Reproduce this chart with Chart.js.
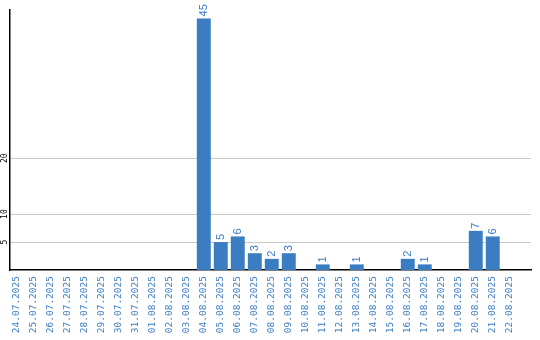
<!DOCTYPE html>
<html>
<head>
<meta charset="utf-8">
<script src="https://cdn.jsdelivr.net/npm/chart.js@4/dist/chart.umd.min.js"></script>
<style>
  html, body { margin: 0; padding: 0; background: #fff; }
  #wrap { width: 540px; height: 340px; }
</style>
</head>
<body>
<div id="wrap"><canvas id="chart" width="540" height="340"></canvas></div>
<script>
const dates = [
  '24.07.2025', '25.07.2025', '26.07.2025', '27.07.2025', '28.07.2025', '29.07.2025',
  '30.07.2025', '31.07.2025', '01.08.2025', '02.08.2025', '03.08.2025', '04.08.2025',
  '05.08.2025', '06.08.2025', '07.08.2025', '08.08.2025', '09.08.2025', '10.08.2025',
  '11.08.2025', '12.08.2025', '13.08.2025', '14.08.2025', '15.08.2025', '16.08.2025',
  '17.08.2025', '18.08.2025', '19.08.2025', '20.08.2025', '21.08.2025', '22.08.2025'
];
const counts = [
  0, 0, 0, 0, 0, 0,
  0, 0, 0, 0, 0, 45,
  5, 6, 3, 2, 3, 0,
  1, 0, 1, 0, 0, 2,
  1, 0, 0, 7, 6, 0
];
const yTicks = [5, 10, 20];

const blue = '#3b7dc3';

// value labels above bars, rotated
const valueLabels = {
  id: 'valueLabels',
  afterDatasetsDraw(chart) {
    const ctx = chart.ctx;
    const meta = chart.getDatasetMeta(0);
    ctx.save();
    ctx.fillStyle = blue;
    ctx.font = '11px "Liberation Sans", Arial, sans-serif';
    ctx.textAlign = 'left';
    ctx.textBaseline = 'middle';
    meta.data.forEach((bar, i) => {
      if (!counts[i]) return;
      ctx.save();
      ctx.translate(bar.x, bar.y - 2);
      ctx.rotate(-Math.PI / 2);
      ctx.fillText(String(counts[i]), 0, 0);
      ctx.restore();
    });
    ctx.restore();
  }
};

new Chart(document.getElementById('chart'), {
  type: 'bar',
  data: {
    datasets: [{
      data: counts.map((v, i) => ({ x: i, y: v })),
      backgroundColor: blue,
      borderWidth: 0,
      categoryPercentage: 1,
      barPercentage: 0.82
    }]
  },
  options: {
    responsive: false,
    animation: false,
    layout: { padding: { top: 10, right: 9, left: 0, bottom: 0 } },
    plugins: { legend: { display: false }, tooltip: { enabled: false } },
    scales: {
      x: {
        type: 'linear',
        offset: false,
        min: -0.4,
        max: 30.25,
        afterBuildTicks(scale) {
          scale.ticks = dates.map((d, i) => ({ value: i }));
        },
        afterFit(scale) { scale.height = 70; },
        grid: { display: false, drawTicks: false },
        border: { color: '#000', width: 1.5 },
        ticks: {
          autoSkip: false,
          minRotation: 90,
          maxRotation: 90,
          padding: 6,
          color: blue,
          font: { family: '"DejaVu Sans Mono", monospace', size: 9.5 },
          callback: (v) => dates[v]
        }
      },
      y: {
        min: 0,
        max: 46.5,
        afterBuildTicks(scale) {
          scale.ticks = yTicks.map(v => ({ value: v }));
        },
        afterFit(scale) { scale.width = 10; },
        grid: { color: '#c8c8c8', lineWidth: 1, drawTicks: false },
        border: { color: '#000', width: 1.5 },
        ticks: {
          minRotation: 90,
          maxRotation: 90,
          crossAlign: 'center',
          padding: 0,
          color: '#000',
          font: { family: '"DejaVu Sans Mono", monospace', size: 8 }
        }
      }
    }
  },
  plugins: [valueLabels]
});
</script>
</body>
</html>
